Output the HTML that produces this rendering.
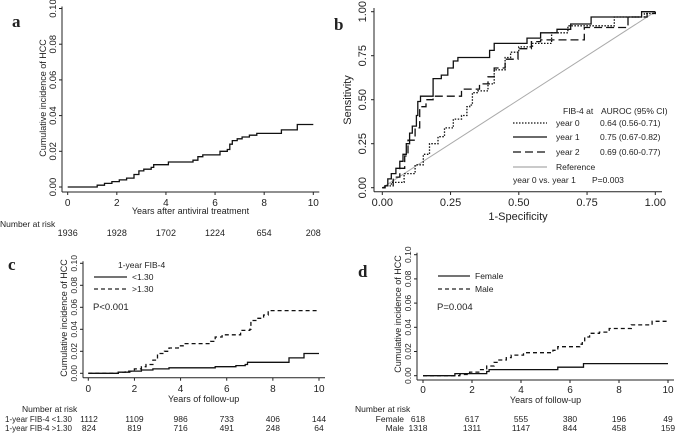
<!DOCTYPE html>
<html><head><meta charset="utf-8"><style>
html,body{margin:0;padding:0;background:#fff;}
svg{display:block;font-family:"Liberation Sans",Arial,sans-serif;}
text{fill:#222;}
.lbl{font-family:"Liberation Serif",serif;font-weight:bold;font-size:17px;}
</style></head><body>
<svg id="fig" width="676" height="434" viewBox="0 0 676 434" xmlns="http://www.w3.org/2000/svg"></svg>
<script>
// Panel a data
const aTimes = [0,1.2,1.5,1.8,2.1,2.4,2.7,2.9,3.1,3.4,3.5,4.1,5.1,5.3,5.5,6.2,6.5,6.6,6.7,6.9,7.1,7.4,7.7,8.7,9.35,10];
const aVals  = [0,0.001,0.002,0.003,0.004,0.005,0.007,0.009,0.010,0.011,0.0125,0.014,0.015,0.017,0.018,0.020,0.021,0.024,0.026,0.027,0.028,0.029,0.030,0.032,0.035,0.035];
const aRisk = ["1936","1928","1702","1224","654","208"];
const kmXTicks = [0,2,4,6,8,10];
const kmYTicks = ["0.00","0.02","0.04","0.06","0.08","0.10"];
// Panel b data
const rocTicks = ["0.00","0.25","0.50","0.75","1.00"];
const y1Fpr = [0,0.01,0.02,0.033,0.05,0.064,0.076,0.088,0.1,0.11,0.125,0.13,0.14,0.186,0.216,0.24,0.26,0.277,0.393,0.41,0.53,0.58,0.64,0.69,0.765,0.95,1];
const y1Tpr = [0,0.01,0.05,0.08,0.11,0.15,0.19,0.25,0.31,0.35,0.41,0.49,0.52,0.62,0.64,0.68,0.72,0.74,0.78,0.82,0.85,0.88,0.90,0.93,0.97,1.0,1.0];
const y0Fpr = [0,0.01,0.033,0.08,0.12,0.15,0.173,0.204,0.228,0.26,0.29,0.31,0.32,0.33,0.35,0.387,0.41,0.45,0.47,0.5,0.55,0.62,0.68,0.85,0.96,1];
const y0Tpr = [0,0.01,0.03,0.08,0.13,0.19,0.25,0.29,0.34,0.39,0.41,0.46,0.47,0.54,0.55,0.59,0.67,0.74,0.77,0.80,0.82,0.88,0.92,0.97,0.99,1.0];
const y2Fpr = [0,0.01,0.04,0.064,0.082,0.094,0.12,0.137,0.16,0.186,0.29,0.356,0.387,0.41,0.45,0.497,0.546,0.58,0.74,0.9,0.97,1];
const y2Tpr = [0,0.01,0.06,0.11,0.18,0.27,0.34,0.46,0.50,0.52,0.56,0.59,0.63,0.68,0.73,0.79,0.83,0.84,0.91,0.97,0.99,1.0];
// Panel c data
const cLowT = [0,1.3,1.8,2.3,2.8,3.5,5.5,6.4,6.8,6.9,8.7,9.35,10];
const cLowV = [0,0.001,0.002,0.003,0.004,0.005,0.006,0.007,0.008,0.010,0.014,0.018,0.018];
const cHighT = [0,1.3,1.6,2.0,2.3,2.5,2.8,3.0,3.3,3.5,3.9,4.2,5.3,5.5,5.8,6.6,7.0,7.05,7.3,7.6,7.8,10];
const cHighV = [0,0.001,0.002,0.004,0.006,0.008,0.012,0.018,0.020,0.023,0.025,0.027,0.029,0.033,0.035,0.039,0.040,0.048,0.050,0.053,0.057,0.057];
const cRiskLow = ["1112","1109","986","733","406","144"];
const cRiskHigh = ["824","819","716","491","248","64"];
// Panel d data
const dFemT = [0,1.3,2.6,2.7,5.5,6.55,10];
const dFemV = [0,0.0017,0.0035,0.005,0.007,0.010,0.010];
const dMaleT = [0,1.5,1.9,2.3,2.6,2.9,3.1,3.4,3.6,4.1,5.3,5.5,6.4,6.5,6.6,6.8,7.2,7.6,8.5,9.35,10];
const dMaleV = [0,0.001,0.003,0.005,0.008,0.011,0.013,0.015,0.017,0.019,0.021,0.024,0.026,0.028,0.032,0.035,0.036,0.039,0.042,0.045,0.045];
const dRiskF = ["618","617","555","380","196","49"];
const dRiskM = ["1318","1311","1147","844","458","159"];

const NS="http://www.w3.org/2000/svg";
const svg=document.getElementById('fig');
function el(tag,attrs,parent,txt){const e=document.createElementNS(NS,tag);for(const k in attrs)e.setAttribute(k,attrs[k]);if(txt!==undefined)e.textContent=txt;(parent||svg).appendChild(e);return e;}
function lin(d0,d1,r0,r1){return v=>r0+(v-d0)/(d1-d0)*(r1-r0);}
function stepPath(xs,ys,sx,sy){let d='M'+sx(xs[0]).toFixed(1)+' '+sy(ys[0]).toFixed(1);for(let i=1;i<xs.length;i++){d+=' H'+sx(xs[i]).toFixed(1)+' V'+sy(ys[i]).toFixed(1);}return d;}
function txt(x,y,s,size,anchor,name,rot){const t=el('text',{x:x,y:y,'font-size':size,'text-anchor':anchor||'start'},svg,s);if(rot)t.setAttribute('transform','rotate(-90 '+x+' '+y+')');return t;}
function line(x1,y1,x2,y2,name,extra){const l=el('line',Object.assign({x1:x1,y1:y1,x2:x2,y2:y2,stroke:'#222','stroke-width':1},extra||{}));return l;}
function curve(d,name,dash,color,w){const p=el('path',{d:d,fill:'none',stroke:color||'#111','stroke-width':w||1.3});if(dash)p.setAttribute('stroke-dasharray',dash);return p;}

function kmAxes(p,sx,sy,axL,axB,ytx,ytitleX,ytitleY,xTitle,xTitleY,xLabY,yf,tf,xf){
  line(axL,sy(0.10)-2,axL,axB,p+'-y-axis');
  line(axL,axB,sx(10)+6,axB,p+'-x-axis');
  kmYTicks.forEach(s=>{const v=parseFloat(s);line(axL-3,sy(v),axL,sy(v),p+'-y-tick');txt(ytx,sy(v),s,yf,'middle',p+'-y-tick-label',true);});
  kmXTicks.forEach(v=>{line(sx(v),axB,sx(v),axB+3,p+'-x-tick');txt(sx(v),xLabY,String(v),xf,'middle',p+'-x-tick-label');});
  txt(ytitleX,ytitleY,'Cumulative incidence of HCC',tf,'middle',p+'-y-axis-title',true);
  txt(sx(5),xTitleY,xTitle,tf,'middle',p+'-x-axis-title');
}

// ---- Panel a ----
{
  const sx=lin(0,10,67.7,313.3), sy=lin(0,0.10,187,8.5);
  txt(12,27,'a',17,'start','panel-a-label').setAttribute('class','lbl');
  kmAxes('panel-a',sx,sy,62,192,56,46,98,'Years after antiviral treatment',214,206,9.5,9,10);
  curve(stepPath(aTimes,aVals,sx,sy),'panel-a-km-curve');
  txt(0,227,'Number at risk',8.5,'start','panel-a-risk-title');
  aRisk.forEach((s,i)=>txt(sx(kmXTicks[i]),236,s,9,'middle','panel-a-risk-count'));
}
// ---- Panel b ----
{
  const sx=lin(0,1,382.3,655.3), sy=lin(0,1,187.7,11.7);
  txt(334,30,'b',17,'start','panel-b-label').setAttribute('class','lbl');
  line(374,8,374,191.7,'panel-b-y-axis');
  line(374,191.7,662,191.7,'panel-b-x-axis');
  rocTicks.forEach(s=>{const v=parseFloat(s);
    line(371,sy(v),374,sy(v),'panel-b-y-tick');txt(366,sy(v),s,11,'middle','panel-b-y-tick-label',true);
    line(sx(v),191.7,sx(v),195,'panel-b-x-tick');txt(sx(v),206,s,11,'middle','panel-b-x-tick-label');});
  txt(351,100,'Sensitivity',11,'middle','panel-b-y-axis-title',true);
  txt(518,220,'1-Specificity',11,'middle','panel-b-x-axis-title');
  line(sx(0),sy(0),sx(1),sy(1),'reference-line',{stroke:'#aaa'});
  curve(stepPath(y0Fpr,y0Tpr,sx,sy),'roc-year-0','1.5,1.5');
  curve(stepPath(y2Fpr,y2Tpr,sx,sy),'roc-year-2','8,4');
  curve(stepPath(y1Fpr,y1Tpr,sx,sy),'roc-year-1');
  txt(563,114,'FIB-4 at',8.5,'start','legend-header-fib4');
  txt(601,114,'AUROC (95% CI)',8.5,'start','legend-header-auroc');
  const rows=[['year 0','0.64 (0.56-0.71)','1.5,1.5','#111'],['year 1','0.75 (0.67-0.82)',null,'#111'],['year 2','0.69 (0.60-0.77)','8,4','#111'],['Reference','',null,'#aaa']];
  const ry=[123,137,152,167];
  rows.forEach((r,i)=>{const l=line(513,ry[i],547,ry[i],'legend-line-'+r[0].toLowerCase().replace(' ','-'),{stroke:r[3],'stroke-width':1.3});if(r[2])l.setAttribute('stroke-dasharray',r[2]);
    txt(556,ry[i]+3,r[0],8.5,'start','legend-label');if(r[1])txt(600,ry[i]+3,r[1],8.5,'start','legend-auroc-value');});
  txt(513,183,'year 0 vs. year 1',8.5,'start','legend-comparison');
  txt(592,183,'P=0.003',8.5,'start','legend-p-value');
}
// ---- Panel c ----
{
  const sx=lin(0,10,88.3,319), sy=lin(0,0.10,373.3,263.3);
  txt(8,270,'c',17,'start','panel-c-label').setAttribute('class','lbl');
  kmAxes('panel-c',sx,sy,83,377.7,77,67,318,'Years of follow-up',402,392,8.5,9,10);
  curve(stepPath(cLowT,cLowV,sx,sy),'curve-fib4-low');
  curve(stepPath(cHighT,cHighV,sx,sy),'curve-fib4-high','4,3');
  txt(118,268,'1-year FIB-4',8.5,'start','panel-c-legend-title');
  line(94,277,127,277,'panel-c-legend-line-low',{'stroke-width':1.3});
  txt(132,280,'<1.30',8.5,'start','panel-c-legend-low');
  line(94,289,127,289,'panel-c-legend-line-high',{'stroke-width':1.3,'stroke-dasharray':'4,3'});
  txt(132,292,'>1.30',8.5,'start','panel-c-legend-high');
  txt(93,310,'P<0.001',9.5,'start','panel-c-p-value');
  txt(22,412,'Number at risk',8.5,'start','panel-c-risk-title');
  txt(5,422,'1-year FIB-4 <1.30',8,'start','panel-c-risk-row-low');
  txt(5,431,'1-year FIB-4 >1.30',8,'start','panel-c-risk-row-high');
  cRiskLow.forEach((s,i)=>txt(i==0?89:sx(kmXTicks[i]),422,s,8.5,'middle','panel-c-risk-count-low'));
  cRiskHigh.forEach((s,i)=>txt(i==0?89:sx(kmXTicks[i]),431,s,8.5,'middle','panel-c-risk-count-high'));
}
// ---- Panel d ----
{
  const sx=lin(0,10,423,668), sy=lin(0,0.10,375.7,254.7);
  txt(358,277,'d',17,'start','panel-d-label').setAttribute('class','lbl');
  kmAxes('panel-d',sx,sy,417,380,411,401,314,'Years of follow-up',403,393,8.5,9,10);
  curve(stepPath(dFemT,dFemV,sx,sy),'curve-female');
  curve(stepPath(dMaleT,dMaleV,sx,sy),'curve-male','4,3');
  line(438,276,470,276,'panel-d-legend-line-female',{'stroke-width':1.3});
  txt(475,279,'Female',8.5,'start','panel-d-legend-female');
  line(438,289,470,289,'panel-d-legend-line-male',{'stroke-width':1.3,'stroke-dasharray':'4,3'});
  txt(475,292,'Male',8.5,'start','panel-d-legend-male');
  txt(437,310,'P=0.004',9.5,'start','panel-d-p-value');
  txt(355,412,'Number at risk',8.5,'start','panel-d-risk-title');
  txt(404,422,'Female',8.5,'end','panel-d-risk-row-female');
  txt(404,431,'Male',8.5,'end','panel-d-risk-row-male');
  dRiskF.forEach((s,i)=>txt(i==0?418:sx(kmXTicks[i]),422,s,8.5,'middle','panel-d-risk-count-female'));
  dRiskM.forEach((s,i)=>txt(i==0?418:sx(kmXTicks[i]),431,s,8.5,'middle','panel-d-risk-count-male'));
}
</script>
</body></html>
